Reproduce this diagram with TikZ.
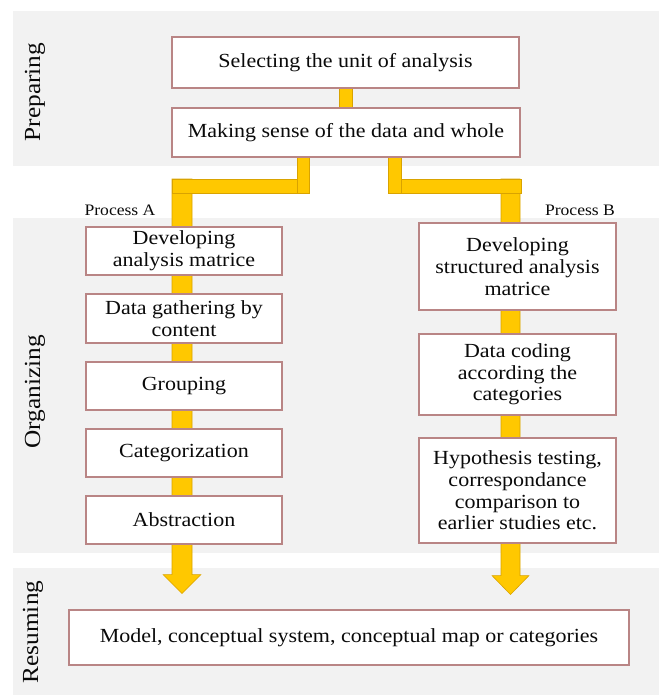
\documentclass[tikz,border=0pt]{standalone}
\usepackage{fontspec}
\setmainfont{Liberation Serif}[FakeStretch=1.1]
\usetikzlibrary{calc}
\pgfdeclarelayer{bands}
\pgfdeclarelayer{bars}
\pgfsetlayers{bands,bars,main}
\definecolor{band}{HTML}{F2F2F2}
\definecolor{boxline}{HTML}{B98585}
\definecolor{barfill}{HTML}{FFC800}
\definecolor{barline}{HTML}{D9A300}
\definecolor{ink}{HTML}{0A0A0A}

\begin{document}
\begin{tikzpicture}[x=1pt,y=-1pt,
  stepbox/.style={draw=boxline, line width=1.1pt, fill=white, inner sep=2pt,
    align=center, text=ink, font=\fontsize{20}{21.7}\selectfont},
  phase/.style={rotate=90, text=ink, font=\fontsize{23}{26}\selectfont},
  proc/.style={text=ink, font=\fontsize{16}{18}\selectfont},
  bar/.style={fill=barfill, draw=barline, line width=0.6pt}]

\useasboundingbox (0,0) rectangle (659,697);

% phase bands
\begin{pgfonlayer}{bands}
  \fill[band] (13,11) rectangle (659,166);
  \fill[band] (13,218) rectangle (659,553);
  \fill[band] (13,568) rectangle (659,695);
\end{pgfonlayer}

\node[phase] (prep) at (35,92) {Preparing};
\node[phase] (orga) at (35,392) {Organizing};
\node[phase] (resu) at (33,632) {Resuming};

% preparing steps
\node[stepbox, minimum width=347pt, minimum height=51pt] (sel) at (345.5,62.5) {Selecting the unit of analysis};
\node[stepbox, minimum width=348pt, minimum height=49pt] (mk) at (346,132.5) {Making sense of the data and whole};

% process A
\node[proc] (pa) at (120,210) {Process A};
\node[stepbox, minimum width=196pt, minimum height=48pt] (a1) at (184,251) {Developing\\analysis matrice};
\node[stepbox, minimum width=196pt, minimum height=49pt] (a2) at (184,318.5) {Data gathering by\\content};
\node[stepbox, minimum width=196pt, minimum height=48pt] (a3) at (184,386) {Grouping};
\node[stepbox, minimum width=196pt, minimum height=48pt] (a4) at (184,453) {Categorization};
\node[stepbox, minimum width=196pt, minimum height=48pt] (a5) at (184,520) {Abstraction};

% process B
\node[proc] (pb) at (580,210) {Process B};
\node[stepbox, minimum width=197pt, minimum height=87pt] (b1) at (517.5,266.5) {Developing\\structured analysis\\matrice};
\node[stepbox, minimum width=197pt, minimum height=81pt] (b2) at (517.5,374.5) {Data coding\\according the\\categories};
\node[stepbox, minimum width=197pt, minimum height=105pt] (b3) at (517.5,490.5) {Hypothesis testing,\\correspondance\\comparison to\\earlier studies etc.};

% result
\node[stepbox, minimum width=560pt, minimum height=55pt] (fin) at (349,637.5) {Model, conceptual system, conceptual map or categories};

% yellow connectors
\coordinate (ltop) at (182,179);
\coordinate (rtop) at (510.5,179);
\coordinate (ltip) at ($(a5.south -| ltop)+(0,49)$);
\coordinate (rtip) at ($(b3.south -| rtop)+(0,51)$);
\begin{pgfonlayer}{bars}
  % column A with its arrow head
  \draw[bar] ($(ltop)+(-10,0)$) -- ($(ltop)+(10,0)$) -- ($(ltip)+(10,-19)$)
    -- ($(ltip)+(19,-19)$) -- (ltip) -- ($(ltip)+(-19,-19)$) -- ($(ltip)+(-10,-19)$) -- cycle;
  % column B with its arrow head
  \draw[bar] ($(rtop)+(-9.5,0)$) -- ($(rtop)+(9.5,0)$) -- ($(rtip)+(9.5,-19)$)
    -- ($(rtip)+(18.5,-19)$) -- (rtip) -- ($(rtip)+(-18.5,-19)$) -- ($(rtip)+(-9.5,-19)$) -- cycle;
  % branch bars
  \draw[bar] ($(ltop)+(-10,0)$) rectangle ($(mk.south)+(-37,36)$);
  \draw[bar] ($(mk.south)+(42,22)$) rectangle ($(rtop)+(10.5,14)$);
  % stubs
  \draw[bar] ($(mk.south)+(-49,0)$) rectangle ($(mk.south)+(-37,36)$);
  \draw[bar] ($(mk.south)+(42,0)$) rectangle ($(mk.south)+(55,36)$);
  \draw[bar] ($(sel.south)+(-6,0)$) rectangle ($(mk.north)+(6,0)$);
\end{pgfonlayer}
\end{tikzpicture}
\end{document}
